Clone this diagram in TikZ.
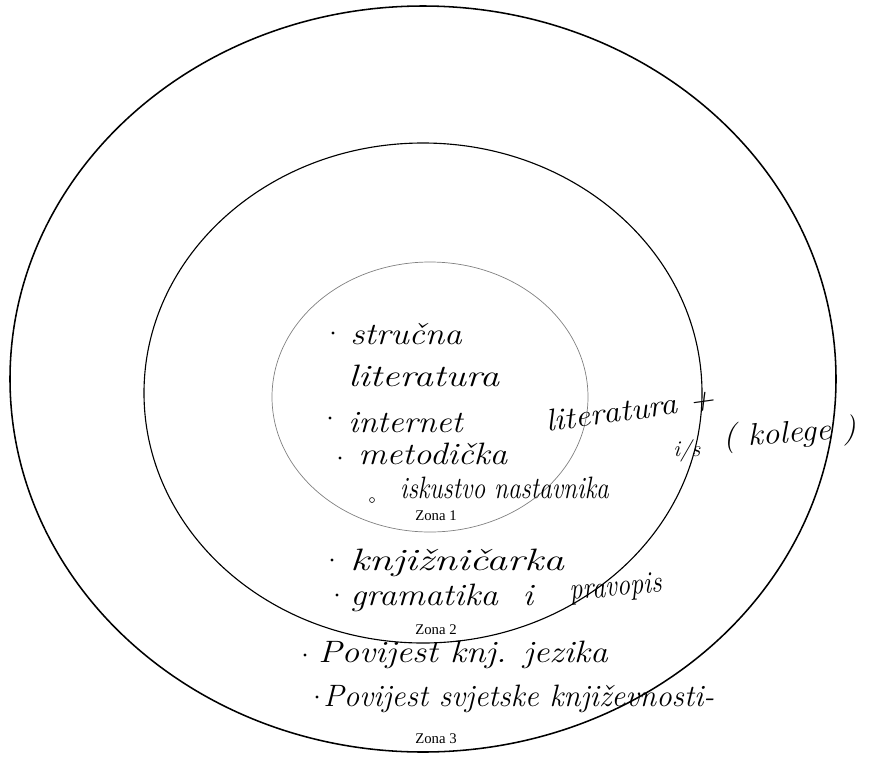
\documentclass[tikz,border=0pt]{standalone}
\usepackage{fontspec}
\newfontfamily\zonafont{Liberation Serif}
\tikzset{
  hand/.style={font=\fontsize{22}{26}\selectfont\itshape, anchor=base west, inner sep=0pt},
  zona/.style={font=\zonafont\fontsize{10.5}{12}\selectfont, inner sep=0pt},
}
\begin{document}
\begin{tikzpicture}[x=0.025cm, y=-0.025cm]
    \useasboundingbox (0,0) rectangle (870,758);

    % Zones (outer to inner)
    \draw[line width=1.1pt] (423,379) ellipse [x radius=413, y radius=373];
    \draw[line width=0.8pt] (423,393) ellipse [x radius=279, y radius=250];
    \draw[gray, line width=0.5pt] (430,397) ellipse [x radius=158, y radius=135];

    % Zone labels
    \node[zona] (z1) at (436,516) {Zona 1};
    \node[zona] (z2) at (436,630) {Zona 2};
    \node[zona] (z3) at (436,739) {Zona 3};

    % Zone 1 entries
    \node[hand, xscale=1.14] (strucna) at (350,344) {stručna};
    \node[hand, xscale=1.25] (lit) at (348,386) {literatura};
    \node[hand, xscale=1.1] (inet) at (348,432) {internet};
    \node[hand, xscale=1.14] (metod) at (358,464) {metodička};
    \node[hand, rotate=8, xscale=1.1] (metodlit) at (547,432) {literatura +};
    \node[hand, xscale=0.82] (iskustvo) at (400,498) {iskustvo nastavnika};
    \node[hand, font=\fontsize{16}{18}\selectfont\itshape] (is) at (673,456) {i/s};
    \node[hand, rotate=4, xscale=1.08] (kolege) at (723,447) {( kolege )};

    % Zone 2 entries
    \node[hand, xscale=1.35] (knjiz) at (350,570) {knjižničarka};
    \node[hand, xscale=1.14] (gram) at (350,605) {gramatika \ i};
    \node[hand, rotate=5, xscale=0.85] (pravopis) at (570,600) {pravopis};

    % Zone 3 entries
    \node[hand, xscale=1.14] (povjez) at (318,662) {Povijest knj. jezika};
    \node[hand] (povknj) at (323,706) {Povijest svjetske književnosti-};

    % bullets
    \foreach \p in {(333,333),(330,418),(340,458),(332,560),(337,595),(305,655),(317,697)}
        \fill \p circle (1.6);
    \draw (372,500) circle (2.5);
\end{tikzpicture}
\end{document}
